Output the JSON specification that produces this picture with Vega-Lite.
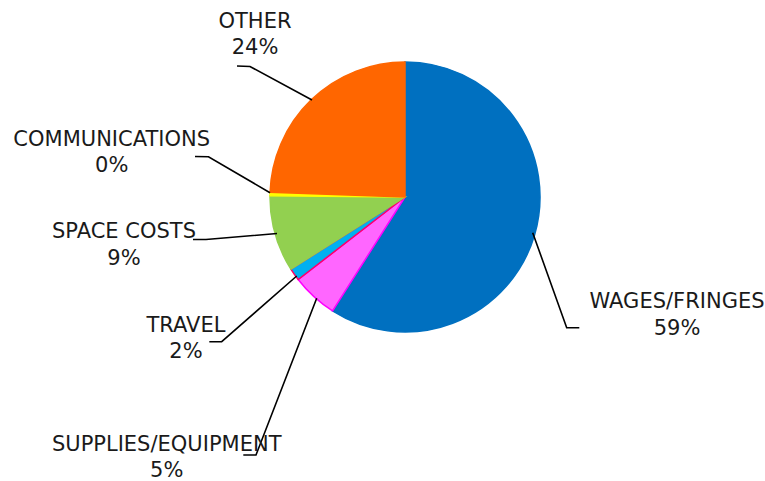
{
  "$schema": "https://vega.github.io/schema/vega-lite/v6.json",
  "width": 270,
  "height": 270,
  "autosize": {"type": "none"},
  "padding": {"left": 270, "top": 62, "right": 225, "bottom": 149},
  "background": "white",
  "config": {"view": {"stroke": null}},
  "datasets": {
    "slices": [
      {"idx": 1, "category": "WAGES/FRINGES", "share": 58.9, "label": "WAGES/FRINGES\n59%", "tx": 2.0148, "ty": -0.8244},
      {"idx": 2, "category": "SUPPLIES/EQUIPMENT", "share": 5.5, "label": "SUPPLIES/EQUIPMENT\n5%", "tx": -1.7652, "ty": -1.8793},
      {"idx": 3, "category": "TRAVEL", "share": 1.5, "label": "TRAVEL\n2%", "tx": -1.6222, "ty": -0.9978},
      {"idx": 4, "category": "SPACE COSTS", "share": 9.1, "label": "SPACE COSTS\n9%", "tx": -2.0815, "ty": -0.3059},
      {"idx": 5, "category": "COMMUNICATIONS", "share": 0.4, "label": "COMMUNICATIONS\n0%", "tx": -2.1726, "ty": 0.38},
      {"idx": 6, "category": "OTHER", "share": 24.4, "label": "OTHER\n24%", "tx": -1.1111, "ty": 1.2541}
    ],
    "leaders": [
      {"category": "OTHER", "pt": 1, "lx": -1.2444, "ly": 0.9704},
      {"category": "OTHER", "pt": 2, "lx": -1.1481, "ly": 0.9667},
      {"category": "OTHER", "pt": 3, "lx": -0.6889, "ly": 0.7185},
      {"category": "COMMUNICATIONS", "pt": 1, "lx": -1.5556, "ly": 0.3},
      {"category": "COMMUNICATIONS", "pt": 2, "lx": -1.4556, "ly": 0.2985},
      {"category": "COMMUNICATIONS", "pt": 3, "lx": -1.0, "ly": 0.0319},
      {"category": "SPACE COSTS", "pt": 1, "lx": -1.5704, "ly": -0.3148},
      {"category": "SPACE COSTS", "pt": 2, "lx": -1.4741, "ly": -0.3148},
      {"category": "SPACE COSTS", "pt": 3, "lx": -0.9481, "ly": -0.2704},
      {"category": "TRAVEL", "pt": 1, "lx": -1.4496, "ly": -1.0719},
      {"category": "TRAVEL", "pt": 2, "lx": -1.3578, "ly": -1.0719},
      {"category": "TRAVEL", "pt": 3, "lx": -0.8022, "ly": -0.5852},
      {"category": "SUPPLIES/EQUIPMENT", "pt": 1, "lx": -1.1978, "ly": -1.9111},
      {"category": "SUPPLIES/EQUIPMENT", "pt": 2, "lx": -1.1037, "ly": -1.9111},
      {"category": "SUPPLIES/EQUIPMENT", "pt": 3, "lx": -0.6541, "ly": -0.7504},
      {"category": "WAGES/FRINGES", "pt": 1, "lx": 0.9459, "ly": -0.2644},
      {"category": "WAGES/FRINGES", "pt": 2, "lx": 1.1978, "ly": -0.9681},
      {"category": "WAGES/FRINGES", "pt": 3, "lx": 1.2911, "ly": -0.9681}
    ]
  },
  "layer": [
    {
      "data": {"name": "slices"},
      "mark": {"type": "arc", "outerRadius": 135, "strokeWidth": 1.5},
      "encoding": {
        "theta": {"field": "share", "type": "quantitative", "stack": true},
        "order": {"field": "idx", "type": "quantitative"},
        "color": {
          "field": "category", "type": "nominal", "legend": null,
          "scale": {
            "domain": ["WAGES/FRINGES", "SUPPLIES/EQUIPMENT", "TRAVEL", "SPACE COSTS", "COMMUNICATIONS", "OTHER"],
            "range": ["#0070C0", "#FF66FF", "#00B0F0", "#92D050", "#FFFF00", "#FF6600"]
          }
        },
        "stroke": {
          "field": "category", "type": "nominal", "legend": null,
          "scale": {
            "domain": ["WAGES/FRINGES", "SUPPLIES/EQUIPMENT", "TRAVEL", "SPACE COSTS", "COMMUNICATIONS", "OTHER"],
            "range": ["#0070C0", "#FF00FF", "#FF0066", "#92D050", "#FFFF00", "#FF6600"]
          }
        }
      }
    },
    {
      "data": {"name": "leaders"},
      "mark": {"type": "line", "color": "#000000", "strokeWidth": 1.6},
      "encoding": {
        "x": {"field": "lx", "type": "quantitative", "scale": {"domain": [-1, 1], "nice": false, "zero": false}, "axis": null},
        "y": {"field": "ly", "type": "quantitative", "scale": {"domain": [-1, 1], "nice": false, "zero": false}, "axis": null},
        "detail": {"field": "category", "type": "nominal"},
        "order": {"field": "pt", "type": "quantitative"}
      }
    },
    {
      "data": {"name": "slices"},
      "mark": {"type": "text", "lineBreak": "\n", "font": "DejaVu Sans", "fontSize": 21, "lineHeight": 26.5, "align": "center", "baseline": "alphabetic", "color": "#1a1a1a"},
      "encoding": {
        "x": {"field": "tx", "type": "quantitative"},
        "y": {"field": "ty", "type": "quantitative"},
        "text": {"field": "label", "type": "nominal"}
      }
    }
  ]
}
